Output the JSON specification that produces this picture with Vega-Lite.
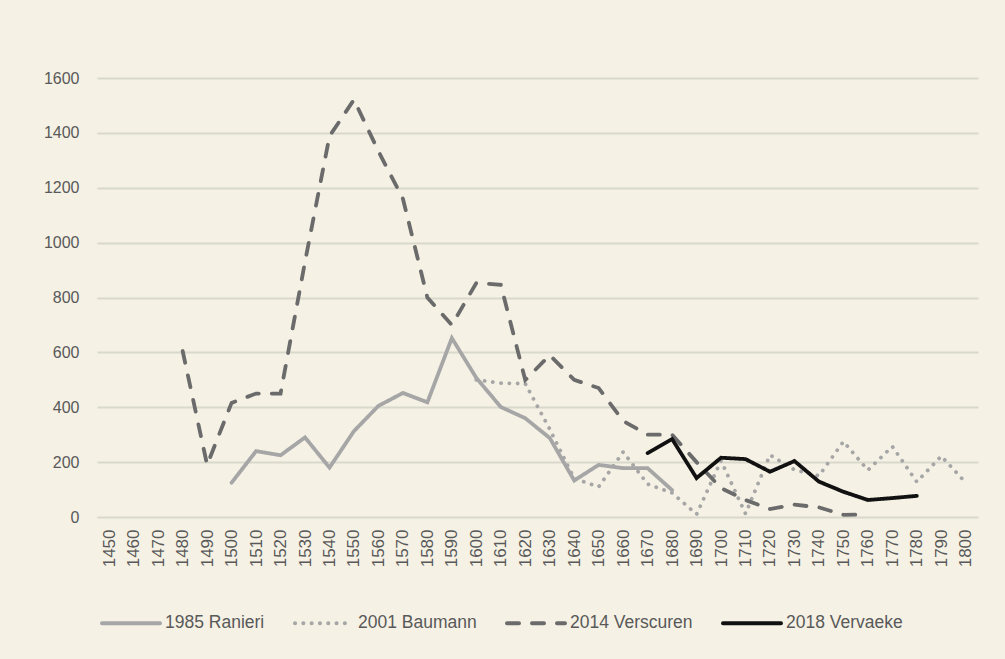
{
  "$schema": "https://vega.github.io/schema/vega-lite/v6.json",
  "width": 881,
  "height": 439,
  "autosize": {"type": "none"},
  "padding": {"left": 97, "top": 78, "right": 27, "bottom": 142},
  "background": "#f5f1e5",
  "config": {"view": {"stroke": null}, "font": "Liberation Sans"},
  "data": {"values": [
    {"year": 1500, "series": "1985 Ranieri", "value": 125},
    {"year": 1510, "series": "1985 Ranieri", "value": 240},
    {"year": 1520, "series": "1985 Ranieri", "value": 225},
    {"year": 1530, "series": "1985 Ranieri", "value": 290},
    {"year": 1540, "series": "1985 Ranieri", "value": 180},
    {"year": 1550, "series": "1985 Ranieri", "value": 313},
    {"year": 1560, "series": "1985 Ranieri", "value": 405},
    {"year": 1570, "series": "1985 Ranieri", "value": 452},
    {"year": 1580, "series": "1985 Ranieri", "value": 418},
    {"year": 1590, "series": "1985 Ranieri", "value": 652},
    {"year": 1600, "series": "1985 Ranieri", "value": 507},
    {"year": 1610, "series": "1985 Ranieri", "value": 401},
    {"year": 1620, "series": "1985 Ranieri", "value": 360},
    {"year": 1630, "series": "1985 Ranieri", "value": 288},
    {"year": 1640, "series": "1985 Ranieri", "value": 133},
    {"year": 1650, "series": "1985 Ranieri", "value": 190},
    {"year": 1660, "series": "1985 Ranieri", "value": 178},
    {"year": 1670, "series": "1985 Ranieri", "value": 178},
    {"year": 1680, "series": "1985 Ranieri", "value": 98},
    {"year": 1600, "series": "2001 Baumann", "value": 500},
    {"year": 1610, "series": "2001 Baumann", "value": 488},
    {"year": 1620, "series": "2001 Baumann", "value": 486},
    {"year": 1630, "series": "2001 Baumann", "value": 320},
    {"year": 1640, "series": "2001 Baumann", "value": 140},
    {"year": 1650, "series": "2001 Baumann", "value": 110},
    {"year": 1660, "series": "2001 Baumann", "value": 237},
    {"year": 1670, "series": "2001 Baumann", "value": 120},
    {"year": 1680, "series": "2001 Baumann", "value": 88},
    {"year": 1690, "series": "2001 Baumann", "value": 10},
    {"year": 1700, "series": "2001 Baumann", "value": 205},
    {"year": 1710, "series": "2001 Baumann", "value": 12},
    {"year": 1720, "series": "2001 Baumann", "value": 226},
    {"year": 1730, "series": "2001 Baumann", "value": 172},
    {"year": 1740, "series": "2001 Baumann", "value": 150},
    {"year": 1750, "series": "2001 Baumann", "value": 275},
    {"year": 1760, "series": "2001 Baumann", "value": 171},
    {"year": 1770, "series": "2001 Baumann", "value": 257},
    {"year": 1780, "series": "2001 Baumann", "value": 128},
    {"year": 1790, "series": "2001 Baumann", "value": 222},
    {"year": 1800, "series": "2001 Baumann", "value": 125},
    {"year": 1480, "series": "2014 Verscuren", "value": 605},
    {"year": 1490, "series": "2014 Verscuren", "value": 190},
    {"year": 1500, "series": "2014 Verscuren", "value": 416},
    {"year": 1510, "series": "2014 Verscuren", "value": 450},
    {"year": 1520, "series": "2014 Verscuren", "value": 450},
    {"year": 1530, "series": "2014 Verscuren", "value": 930},
    {"year": 1540, "series": "2014 Verscuren", "value": 1388},
    {"year": 1550, "series": "2014 Verscuren", "value": 1521},
    {"year": 1560, "series": "2014 Verscuren", "value": 1333},
    {"year": 1570, "series": "2014 Verscuren", "value": 1160},
    {"year": 1580, "series": "2014 Verscuren", "value": 800},
    {"year": 1590, "series": "2014 Verscuren", "value": 700},
    {"year": 1600, "series": "2014 Verscuren", "value": 853},
    {"year": 1610, "series": "2014 Verscuren", "value": 846},
    {"year": 1620, "series": "2014 Verscuren", "value": 499},
    {"year": 1630, "series": "2014 Verscuren", "value": 590},
    {"year": 1640, "series": "2014 Verscuren", "value": 500},
    {"year": 1650, "series": "2014 Verscuren", "value": 470},
    {"year": 1660, "series": "2014 Verscuren", "value": 350},
    {"year": 1670, "series": "2014 Verscuren", "value": 300},
    {"year": 1680, "series": "2014 Verscuren", "value": 300},
    {"year": 1690, "series": "2014 Verscuren", "value": 200},
    {"year": 1700, "series": "2014 Verscuren", "value": 105},
    {"year": 1710, "series": "2014 Verscuren", "value": 62},
    {"year": 1720, "series": "2014 Verscuren", "value": 29},
    {"year": 1730, "series": "2014 Verscuren", "value": 45},
    {"year": 1740, "series": "2014 Verscuren", "value": 35},
    {"year": 1750, "series": "2014 Verscuren", "value": 8},
    {"year": 1760, "series": "2014 Verscuren", "value": 9},
    {"year": 1670, "series": "2018 Vervaeke", "value": 233},
    {"year": 1680, "series": "2018 Vervaeke", "value": 284},
    {"year": 1690, "series": "2018 Vervaeke", "value": 142},
    {"year": 1700, "series": "2018 Vervaeke", "value": 216},
    {"year": 1710, "series": "2018 Vervaeke", "value": 211},
    {"year": 1720, "series": "2018 Vervaeke", "value": 165},
    {"year": 1730, "series": "2018 Vervaeke", "value": 204},
    {"year": 1740, "series": "2018 Vervaeke", "value": 129},
    {"year": 1750, "series": "2018 Vervaeke", "value": 92},
    {"year": 1760, "series": "2018 Vervaeke", "value": 62},
    {"year": 1770, "series": "2018 Vervaeke", "value": 69},
    {"year": 1780, "series": "2018 Vervaeke", "value": 77}
  ]},
  "mark": {"type": "line", "strokeWidth": 3.8, "strokeJoin": "miter", "strokeCap": "round"},
  "encoding": {
    "x": {
      "field": "year", "type": "ordinal",
      "scale": {"domain": [1450,1460,1470,1480,1490,1500,1510,1520,1530,1540,1550,1560,1570,1580,1590,1600,1610,1620,1630,1640,1650,1660,1670,1680,1690,1700,1710,1720,1730,1740,1750,1760,1770,1780,1790,1800]},
      "axis": {"title": null, "labelAngle": -90, "ticks": false, "domain": false, "grid": false, "labelFont": "Liberation Sans", "labelFontSize": 17, "labelColor": "#595959", "labelPadding": 12}
    },
    "y": {
      "field": "value", "type": "quantitative",
      "scale": {"domain": [0, 1600], "nice": false},
      "axis": {"title": null, "format": "d", "values": [0,200,400,600,800,1000,1200,1400,1600], "ticks": false, "domain": false, "gridColor": "#d9d8cc", "gridWidth": 2, "labelPadding": 18, "labelFont": "Liberation Sans", "labelFontSize": 16, "labelColor": "#595959"}
    },
    "color": {
      "field": "series", "type": "nominal",
      "scale": {"domain": ["1985 Ranieri", "2001 Baumann", "2014 Verscuren", "2018 Vervaeke"], "range": ["#a6a6a6", "#a6a6a6", "#6b6b6b", "#111111"]},
      "legend": {"title": null, "orient": "none", "direction": "horizontal", "legendX": 3, "legendY": 514, "columnPadding": 22, "labelOffset": 3, "symbolType": "stroke", "symbolSize": 3364, "symbolStrokeWidth": 4, "labelFont": "Liberation Sans", "labelFontSize": 17.5, "labelColor": "#595959", "encode": {"symbols": {"update": {"strokeCap": {"value": "round"}}}}}
    },
    "strokeDash": {
      "field": "series", "type": "nominal",
      "scale": {"domain": ["1985 Ranieri", "2001 Baumann", "2014 Verscuren", "2018 Vervaeke"], "range": [[1, 0], [0.1, 8.2], [12, 13], [1, 0]]},
      "legend": {"title": null, "orient": "none", "direction": "horizontal", "legendX": 3, "legendY": 514, "columnPadding": 22, "labelOffset": 3, "symbolType": "stroke", "symbolSize": 3364, "symbolStrokeWidth": 4, "labelFont": "Liberation Sans", "labelFontSize": 17.5, "labelColor": "#595959", "encode": {"symbols": {"update": {"strokeCap": {"value": "round"}}}}}
    }
  }
}
